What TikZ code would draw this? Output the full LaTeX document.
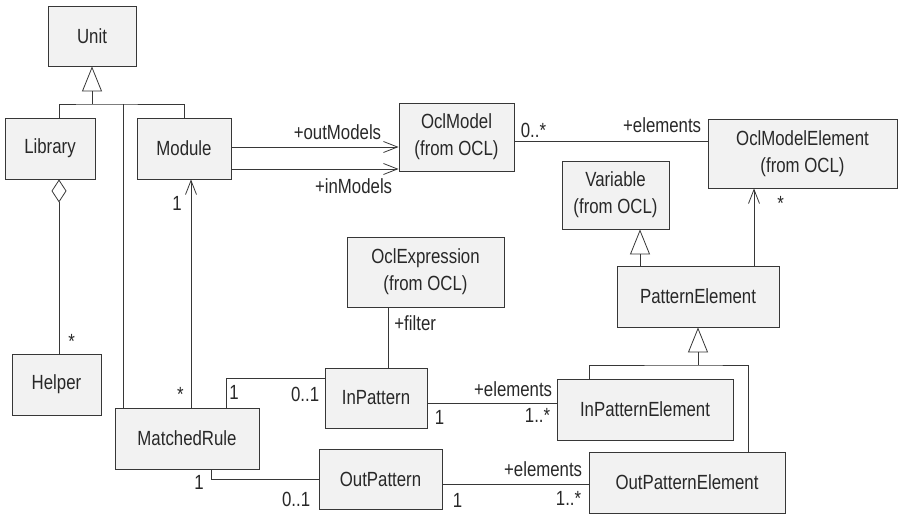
\documentclass[tikz,border=0pt]{standalone}
\usepackage{fontspec}
\setmainfont{Liberation Sans}[FakeStretch=0.82]
\usetikzlibrary{arrows.meta, calc}
\definecolor{boxfill}{RGB}{242,242,242}
\definecolor{boxline}{RGB}{55,55,55}
\definecolor{txt}{RGB}{40,40,40}

\begin{document}
\begin{tikzpicture}[x=1pt, y=-1pt,
    cls/.style={draw=boxline, fill=boxfill, line width=0.9pt, align=center, inner sep=0pt, text=txt, font=\fontsize{20.5}{27}\selectfont},
    lbl/.style={text=txt, inner sep=1pt, font=\fontsize{20.5}{22}\selectfont},
    assoc/.style={draw=boxline, line width=0.8pt},
    nav/.style={assoc, -{Straight Barb[length=14pt, width=11pt]}},
    gen/.style={assoc, -{Triangle[open, length=25pt, width=20pt]}},
    agg/.style={assoc, {Diamond[open, length=23pt, width=15pt]}-}]
    \useasboundingbox (0,0) rectangle (899,516);

    \node[cls, minimum width=88pt, minimum height=60pt] (unit) at (92,36) {Unit};
    \node[cls, minimum width=90pt, minimum height=61pt] (library) at (50,148.5) {Library};
    \node[cls, minimum width=94pt, minimum height=61pt] (module) at (184,148.5) {Module};
    \node[cls, minimum width=115pt, minimum height=68pt] (oclmodel) at (456.5,137) {OclModel\\(from OCL)};
    \node[cls, minimum width=189pt, minimum height=69pt] (oclelem) at (802.5,153.5) {OclModelElement\\(from OCL)};
    \node[cls, minimum width=107pt, minimum height=68pt] (variable) at (615.5,195) {Variable\\(from OCL)};
    \node[cls, minimum width=162pt, minimum height=61pt] (patelem) at (698,296.5) {PatternElement};
    \node[cls, minimum width=157pt, minimum height=70pt] (oclexpr) at (425.5,272) {OclExpression\\(from OCL)};
    \node[cls, minimum width=89pt, minimum height=61pt] (helper) at (56.5,384.5) {Helper};
    \node[cls, minimum width=144pt, minimum height=61pt] (rule) at (187,438.5) {MatchedRule};
    \node[cls, minimum width=102pt, minimum height=60pt] (inpat) at (376,398) {InPattern};
    \node[cls, minimum width=123pt, minimum height=60pt] (outpat) at (380.5,479) {OutPattern};
    \node[cls, minimum width=176pt, minimum height=61pt] (inpatelem) at (645,409.5) {InPatternElement};
    \node[cls, minimum width=196pt, minimum height=61pt] (outpatelem) at (687,482.5) {OutPatternElement};

    % inheritance from Unit
    \coordinate (unitjoin) at (92,104);
    \draw[gen] (unitjoin) -- (unit.south);
    \draw[assoc] ([xshift=9pt]library.south |- library.north) |- (unitjoin) -| (module.north);
    \draw[assoc] ([xshift=-64pt]rule.north) -- ([xshift=-64pt]rule.north |- unitjoin);

    \draw[agg] ([xshift=9pt]library.south) -- ([xshift=9pt]library.south |- helper.north)
        node[lbl, above right, xshift=8pt, yshift=4pt] (helpermul) {*};
    \draw[nav] ([xshift=4pt]rule.north) node[lbl, above left, xshift=-6pt, yshift=5pt] (rulemul) {*}
        -- ([xshift=4pt]rule.north |- module.south) node[lbl, below left, xshift=-8pt, yshift=-16pt] (modulemul) {1};

    \draw[nav] ([yshift=1.5pt]module.east) -- ([yshift=1.5pt]module.east -| oclmodel.west)
        node[lbl, above left, xshift=-16pt, yshift=6pt] (outlbl) {+outModels};
    \draw[nav] ([yshift=-20.5pt]module.east) -- ([yshift=-20.5pt]module.east -| oclmodel.west)
        node[lbl, below left, xshift=-5pt, yshift=-8pt] (inlbl) {+inModels};

    \draw[assoc] ([yshift=-4pt]oclmodel.east) node[lbl, above right, xshift=5pt, yshift=2pt] (modelmul) {0..*}
        -- ([yshift=-4pt]oclmodel.east -| oclelem.west) node[lbl, above left, xshift=-5pt, yshift=7pt] (elemlbl) {+elements};

    \draw[assoc] ([xshift=-37.5pt]oclexpr.south) node[lbl, below right, xshift=5pt, yshift=-7pt] (filterlbl) {+filter}
        -- ([xshift=-37.5pt]oclexpr.south |- inpat.north);

    % pattern elements
    \draw[nav] ([xshift=56pt]patelem.north) -- ([xshift=56pt]patelem.north |- oclelem.south)
        node[lbl, below right, xshift=22pt, yshift=-7pt] (oclelemmul) {*};
    \draw[gen] ([xshift=-58pt]patelem.north) -- ([xshift=-58pt]patelem.north |- variable.south);
    \coordinate (pejoin) at (698,365);
    \draw[gen] (pejoin) -- (patelem.south);
    \draw[assoc] ([xshift=-56pt]inpatelem.north) |- (pejoin) -| ([xshift=61pt]outpatelem.north);

    % rule and patterns
    \draw[assoc] ([xshift=39pt]rule.north) node[lbl, above right, xshift=2pt, yshift=7pt] (inrulemul) {1}
        |- ([yshift=20pt]inpat.west) node[lbl, below left, xshift=-4pt, yshift=-8pt] (inpatmul) {0..1};
    \draw[assoc] ([xshift=24pt]rule.south) node[lbl, below left, xshift=-6pt, yshift=-5pt] (outrulemul) {1}
        |- (outpat.west) node[lbl, below left, xshift=-7pt, yshift=-12pt] (outpatmul) {0..1};

    \draw[assoc] ([yshift=-5pt]inpat.east) node[lbl, below right, xshift=6pt, yshift=-6pt] (inpatone) {1}
        -- ([yshift=-5pt]inpat.east -| inpatelem.west)
        node[lbl, above left, xshift=-3pt, yshift=5pt] (inelemlbl) {+elements}
        node[lbl, below left, xshift=-5pt, yshift=-4pt] (inelemmul) {1..*};
    \draw[assoc] ([yshift=-5pt]outpat.east) node[lbl, below right, xshift=9pt, yshift=-8pt] (outpatone) {1}
        -- ([yshift=-5pt]outpat.east -| outpatelem.west)
        node[lbl, above left, xshift=-5pt, yshift=6pt] (outelemlbl) {+elements}
        node[lbl, below left, xshift=-6pt, yshift=-6pt] (outelemmul) {1..*};
\end{tikzpicture}
\end{document}
